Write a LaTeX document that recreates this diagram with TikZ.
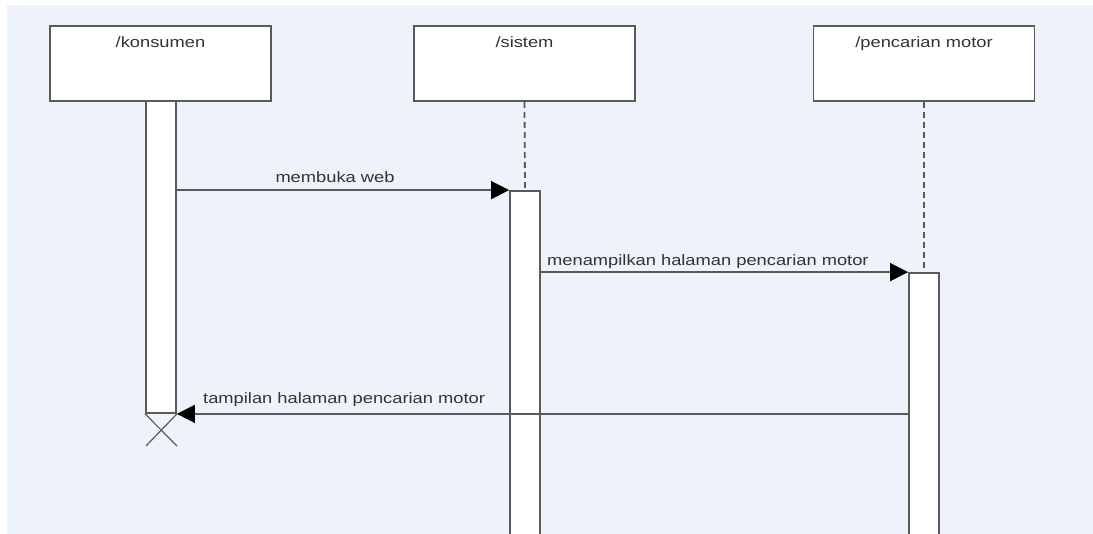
\documentclass[tikz,border=0pt]{standalone}
\usepackage{fontspec}
\newfontfamily\lblfont[FakeStretch=1.22]{Liberation Sans}
\usetikzlibrary{arrows.meta}
\definecolor{bgblue}{HTML}{EEF2FA}
\definecolor{linegray}{HTML}{5A5A5A}
\definecolor{txtgray}{HTML}{333333}
\tikzset{
  lbl/.style={font=\lblfont\fontsize{15}{18}\selectfont, text=txtgray, inner sep=0pt},
  headbox/.style={draw=linegray, line width=1.8pt, fill=white, minimum width=221pt,
    inner xsep=0pt, inner ysep=0pt, text height=22pt, text depth=53pt,
    font=\lblfont\fontsize{15}{18}\selectfont, text=txtgray},
  actbar/.style={draw=linegray, line width=1.8pt, fill=white, minimum width=30pt, inner sep=0pt},
  lifeline/.style={draw=linegray, line width=1.8pt, dash pattern=on 6pt off 4pt},
  msg/.style={draw=linegray, line width=1.5pt, -{Triangle[length=18pt,width=18pt,fill=black,color=black]}},
  xmark/.style={draw=linegray, line width=1.2pt}
}
\begin{document}
\begin{tikzpicture}[x=1pt,y=-1pt]
\clip (0,0) rectangle (1093,534);
\fill[white] (0,0) rectangle (1093,534);
\fill[bgblue] (7,5) rectangle (1093,534);
% heads
\node[headbox] (k) at (160.5,63.5) {/konsumen};
\node[headbox] (s) at (524.5,63.5) {/sistem};
\node[headbox] (p) at (924,63.5) {/pencarian motor};
% activation bars
\node[actbar, minimum height=312pt] (kb) at (161,257) {};
\node[actbar, minimum height=360pt] (sb) at (525,371) {};
\node[actbar, minimum height=280pt] (pb) at (924,413) {};
% lifelines
\draw[lifeline] (s.south) -- (sb.north);
\draw[lifeline] (p.south) -- (pb.north);
% messages
\draw[msg] (kb.east |- sb.north) -- node[lbl, above=7pt, xshift=-8pt] (m1) {membuka web} (sb.north west);
\draw[msg] (sb.east |- pb.north) -- (pb.north west);
\node[lbl, anchor=base west] (m2) at (547,266) {menampilkan halaman pencarian motor};
\draw[msg] (pb.west |- kb.south) -- (kb.south east);
\node[lbl, anchor=base west] (m3) at (203,404) {tampilan halaman pencarian motor};
% destruction
\coordinate (x1) at (146,446);
\coordinate (x2) at (177,446);
\draw[xmark] (kb.south west) -- (x2);
\draw[xmark] (kb.south east) -- (x1);
\end{tikzpicture}
\end{document}
